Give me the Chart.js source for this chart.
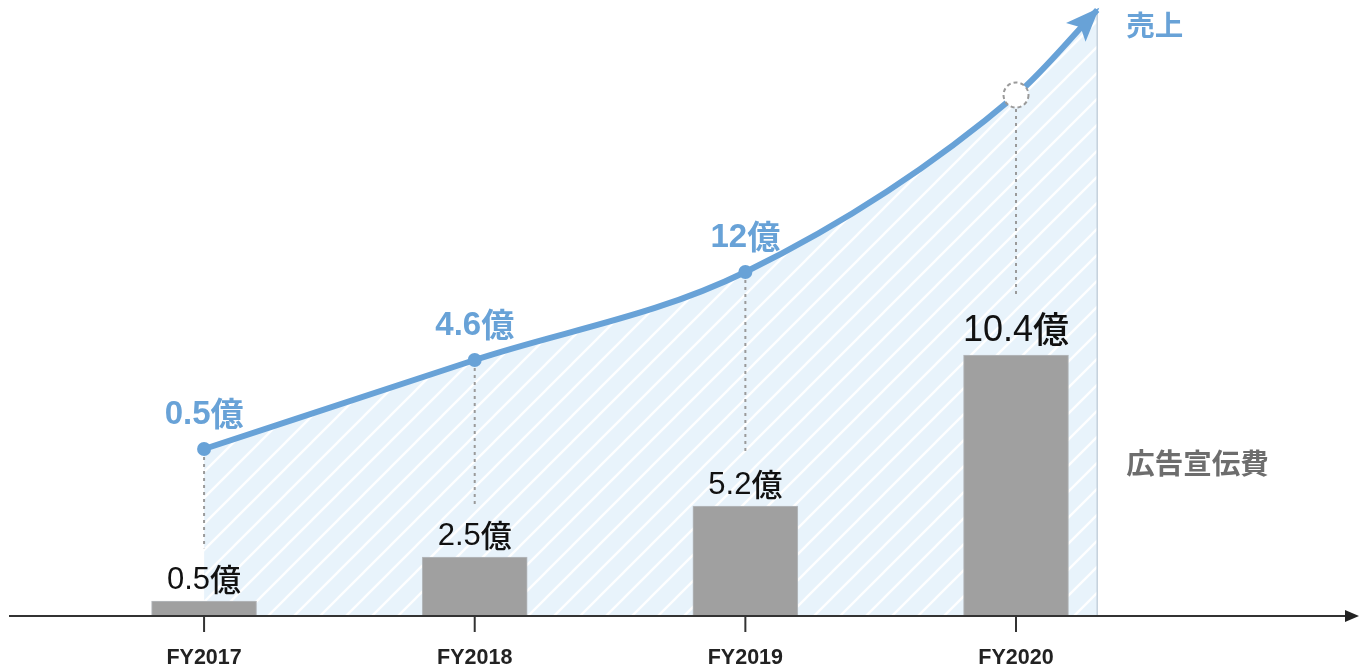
<!DOCTYPE html>
<html><head><meta charset="utf-8">
<script src="https://cdn.jsdelivr.net/npm/chart.js@4.4.1/dist/chart.umd.min.js"></script>
<style>html,body{margin:0;padding:0;background:#fff;}#wrap{width:1360px;height:664px;position:relative;}</style>
</head><body><div id="wrap"><canvas id="c" width="1360" height="664"></canvas></div>
<script>
// ---- data ----
const categories = ['FY2017', 'FY2018', 'FY2019', 'FY2020'];
const adSpendValues = [0.56, 2.32, 4.36, 10.4];          // bar heights on the chart's scale
const adSpendLabels = ['0.5億', '2.5億', '5.2億', '10.4億'];
const salesValues = [6.64, 10.2, 13.72, 20.8];            // line heights on the chart's scale
const salesLabels = ['0.5億', '4.6億', '12億', ''];
const salesArrowEnd = [3.3, 24.2];                        // where the arrow of the sales curve ends
const seriesNames = ['売上', '広告宣伝費'];
const xRange = [-0.754, 4.271];
const yRange = [0, 24.6];

const BLUE = '#68a2d7';
const LATIN = '"Liberation Sans", Arial, sans-serif';
const CJK = '"Noto Sans CJK JP", sans-serif';

function makePattern(ctx) {
  const s = 26;
  const c = document.createElement('canvas');
  c.width = s; c.height = s;
  const g = c.getContext('2d');
  g.fillStyle = '#e8f3fb';
  g.fillRect(0, 0, s, s);
  g.strokeStyle = 'rgba(255,255,255,0.95)';
  g.lineWidth = 2.4;
  g.beginPath();
  g.moveTo(-3, s + 3); g.lineTo(s + 3, -3);
  g.moveTo(-3, 3); g.lineTo(3, -3);
  g.moveTo(s - 3, s + 3); g.lineTo(s + 3, s - 3);
  g.stroke();
  return ctx.createPattern(c, 'repeat');
}

// draws "number + 億" centred at x, with the number and the kanji in separate fonts
function drawValue(ctx, text, x, y, size, numWeight, kanjiWeight) {
  const num = text.slice(0, -1), kanji = text.slice(-1);
  ctx.font = numWeight + ' ' + size + 'px ' + LATIN;
  const w1 = ctx.measureText(num).width;
  ctx.font = kanjiWeight + ' ' + size + 'px ' + CJK;
  const w2 = ctx.measureText(kanji).width;
  const x0 = x - (w1 + w2) / 2;
  ctx.textAlign = 'left';
  ctx.font = numWeight + ' ' + size + 'px ' + LATIN;
  ctx.fillText(num, x0, y);
  ctx.font = kanjiWeight + ' ' + size + 'px ' + CJK;
  ctx.fillText(kanji, x0 + w1, y + size * 0.07);
}

const canvas = document.getElementById('c');
const ctx0 = canvas.getContext('2d');
const hatch = makePattern(ctx0);

const linePoints = salesValues.map((v, i) => ({x: i, y: v}));
linePoints.push({x: salesArrowEnd[0], y: salesArrowEnd[1]});
const barPoints = adSpendValues.map((v, i) => ({x: i, y: v}));
const labelSize = i => (i === adSpendLabels.length - 1 ? 36 : 31);

const decor = {
  id: 'decor',
  beforeDatasetsDraw(chart) {
    const ctx = chart.ctx;
    const ca = chart.chartArea;
    const line = chart.getDatasetMeta(0).data;
    const bars = chart.getDatasetMeta(1).data;
    const tip = line[line.length - 1];
    ctx.save();
    ctx.strokeStyle = '#c3d0dc';
    ctx.lineWidth = 1.5;
    ctx.beginPath();
    ctx.moveTo(tip.x, tip.y);
    ctx.lineTo(tip.x, ca.bottom);
    ctx.stroke();
    ctx.strokeStyle = '#9a9a9a';
    ctx.lineWidth = 2;
    ctx.setLineDash([3, 4]);
    for (let i = 0; i < categories.length; i++) {
      const p = line[i];
      const b = bars[i];
      const s = labelSize(i);
      const base = b.y - s * 0.4;
      const top = base - s * 0.72;
      const startY = p.y + (i === 3 ? 14 : 8);
      ctx.beginPath();
      ctx.moveTo(p.x, startY);
      ctx.lineTo(p.x, top - 18);
      ctx.stroke();
    }
    ctx.restore();
  },
  afterDatasetsDraw(chart) {
    const ctx = chart.ctx;
    const ca = chart.chartArea;
    const line = chart.getDatasetMeta(0).data;
    const bars = chart.getDatasetMeta(1).data;
    const xs = chart.scales.x;
    ctx.save();
    const tip = line[line.length - 1];
    let dx = tip.x - (tip.cp1x ?? line[line.length - 2].x);
    let dy = tip.y - (tip.cp1y ?? line[line.length - 2].y);
    let len = Math.hypot(dx, dy) || 1;
    dx /= len; dy /= len;
    const tx = tip.x + dx * 3, ty = tip.y + dy * 3;
    const bx = tx - dx * 34, by = ty - dy * 34;
    const px = -dy, py = dx;
    ctx.fillStyle = BLUE;
    ctx.beginPath();
    ctx.moveTo(tx, ty);
    ctx.lineTo(bx + px * 13.5, by + py * 13.5);
    ctx.lineTo(bx + dx * 7, by + dy * 7);
    ctx.lineTo(bx - px * 13.5, by - py * 13.5);
    ctx.closePath();
    ctx.fill();
    const p3 = line[3];
    ctx.fillStyle = '#ffffff';
    ctx.strokeStyle = '#9a9a9a';
    ctx.lineWidth = 2;
    ctx.setLineDash([4, 3]);
    ctx.beginPath();
    ctx.arc(p3.x, p3.y, 12.5, 0, Math.PI * 2);
    ctx.fill();
    ctx.stroke();
    ctx.setLineDash([]);
    const ay = ca.bottom + 1;
    ctx.strokeStyle = '#333333';
    ctx.lineWidth = 2;
    ctx.beginPath();
    ctx.moveTo(9, ay);
    ctx.lineTo(1348, ay);
    ctx.stroke();
    ctx.fillStyle = '#222222';
    ctx.beginPath();
    ctx.moveTo(1359, ay);
    ctx.lineTo(1345, ay - 6);
    ctx.lineTo(1345, ay + 6);
    ctx.closePath();
    ctx.fill();
    for (let i = 0; i < categories.length; i++) {
      const x = xs.getPixelForValue(i);
      ctx.beginPath();
      ctx.moveTo(x, ay);
      ctx.lineTo(x, ay + 16);
      ctx.stroke();
    }
    ctx.textBaseline = 'alphabetic';
    ctx.fillStyle = '#111111';
    bars.forEach((b, i) => {
      const s = labelSize(i);
      drawValue(ctx, adSpendLabels[i], b.x, b.y - s * 0.4, s, 'normal', '500');
    });
    ctx.fillStyle = BLUE;
    salesLabels.forEach((t, i) => {
      if (t) drawValue(ctx, t, line[i].x, line[i].y - 25, 33, 'bold', 'bold');
    });
    ctx.textAlign = 'left';
    ctx.textBaseline = 'middle';
    ctx.font = 'bold 28.5px ' + CJK;
    ctx.fillStyle = BLUE;
    ctx.fillText(seriesNames[0], tip.x + 29, 25);
    ctx.fillStyle = '#6d6d6d';
    ctx.fillText(seriesNames[1], tip.x + 29, ca.bottom - 152);
    ctx.restore();
  }
};

new Chart(canvas, {
  type: 'bar',
  data: {
    datasets: [
      {
        type: 'line',
        label: seriesNames[0],
        data: linePoints,
        borderColor: BLUE,
        borderWidth: 6,
        backgroundColor: hatch,
        fill: 'origin',
        cubicInterpolationMode: 'monotone',
        pointRadius: [7, 7, 7, 0, 0],
        pointBackgroundColor: BLUE,
        pointBorderWidth: 0,
        order: 0
      },
      {
        type: 'bar',
        label: seriesNames[1],
        data: barPoints,
        backgroundColor: '#a0a0a0',
        borderColor: '#b6babe',
        borderWidth: 1,
        barThickness: 105,
        order: 1
      }
    ]
  },
  options: {
    responsive: false,
    animation: false,
    events: [],
    layout: {padding: 0, autoPadding: false},
    plugins: {
      legend: {display: false},
      tooltip: {enabled: false},
      filler: {drawTime: 'beforeDatasetsDraw'}
    },
    scales: {
      x: {
        type: 'linear',
        offset: false,
        min: xRange[0], max: xRange[1],
        grid: {display: false, offset: false},
        border: {display: false},
        afterBuildTicks: s => { s.ticks = categories.map((_, i) => ({value: i})); },
        afterFit: s => { s.height = 49; },
        ticks: {
          padding: 22,
          autoSkip: false,
          maxRotation: 0,
          color: '#222222',
          font: {family: LATIN, size: 21.5, weight: 'bold'},
          callback: v => categories[v] ?? ''
        }
      },
      y: {
        display: false,
        min: yRange[0], max: yRange[1]
      }
    }
  },
  plugins: [decor]
});
</script>
</body></html>
